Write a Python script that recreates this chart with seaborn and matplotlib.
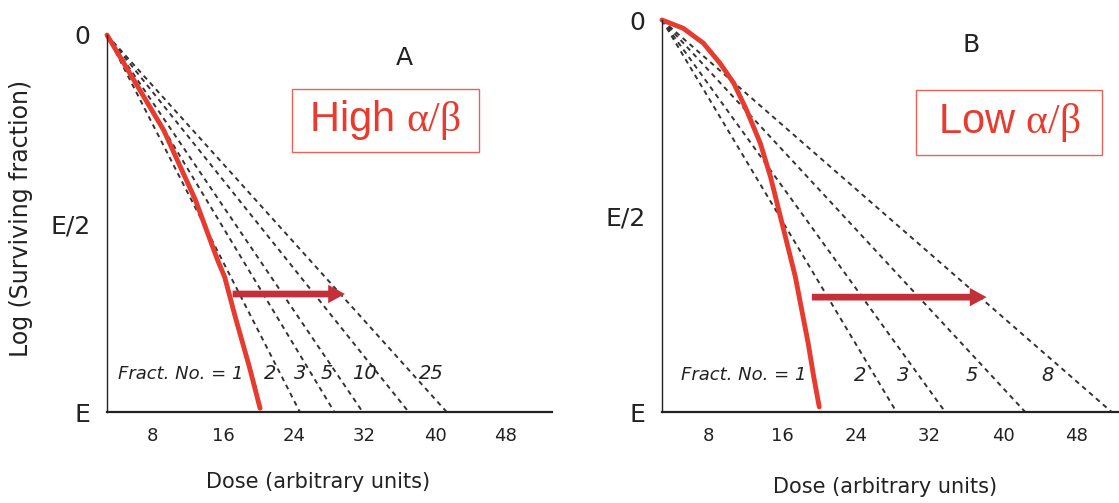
import matplotlib.pyplot as plt
import seaborn as sns
from matplotlib.patches import Rectangle

# Panel A - high alpha/beta: single-dose curve (dose, fraction of effect E)
dose_a = [2.9, 9.3, 12.9, 15.4, 16.2, 17.4, 19.0, 20.2]
effect_a = [0.0, 0.252, 0.438, 0.597, 0.642, 0.748, 0.881, 0.99]
# multi-fraction lines: number of fractions and dose where they reach E
fract_a = ["2", "3", "5", "10", "25"]
end_dose_a = [24.7, 28.6, 31.8, 37.0, 41.3]

# Panel B - low alpha/beta
dose_b = [2.9, 5.2, 7.4, 9.2, 10.7, 12.1, 13.6, 14.7, 15.6, 16.5, 17.4, 18.1, 18.8, 19.4, 20.0]
effect_b = [0.0, 0.021, 0.059, 0.110, 0.161, 0.230, 0.315, 0.400, 0.485, 0.570,
            0.655, 0.740, 0.825, 0.910, 0.987]
fract_b = ["2", "3", "5", "8"]
end_dose_b = [28.4, 33.7, 42.4, 51.8]

dose_ticks = [8, 16, 24, 32, 40, 48]
effect_ticks = [0, 0.5, 1]
effect_labels = ["0", "E/2", "E"]

RED = "#e63b2e"
ARROW = "#c3303a"
BOX = "#e8625a"
INK = "#222222"

sns.set_style("white")
plt.rcParams["mathtext.fontset"] = "custom"
plt.rcParams["mathtext.rm"] = "Liberation Serif"
plt.rcParams["mathtext.it"] = "Liberation Serif:italic"

fig = plt.figure(figsize=(11.19, 5.03), dpi=100)


def draw_panel(ax, dose, effect, fracts, end_doses, layout):
    # dashed lines for fractionated treatment, all from the origin
    for n, xe in zip(fracts, end_doses):
        sns.lineplot(x=[dose[0], xe], y=[effect[0], 1.0], ax=ax, color="#333333",
                     linewidth=1.4, linestyle=(0, (2.5, 2.2)), sort=False, estimator=None)
    # single dose curve
    sns.lineplot(x=dose, y=effect, ax=ax, color=RED, linewidth=3.5,
                 sort=False, estimator=None)
    for line in ax.lines:
        line.set_clip_on(False)

    ax.set_xlim(layout["xlim"])
    ax.set_ylim(1, 0)
    ax.set_xticks(dose_ticks)
    ax.set_xticklabels([str(t) for t in dose_ticks], fontsize=13)
    ax.set_yticks(effect_ticks)
    ax.set_yticklabels(effect_labels, fontsize=18)
    ax.tick_params(axis="x", direction="in", length=8, width=1.2, pad=11, colors=INK)
    ax.tick_params(axis="y", direction="in", length=5, width=1.2, pad=12, colors=INK)
    yt = ax.yaxis.get_major_ticks()
    yt[0].tick1line.set_visible(False)
    yt[2].tick1line.set_visible(False)

    sns.despine(ax=ax)
    ax.spines["left"].set_linewidth(1.0)
    ax.spines["bottom"].set_linewidth(1.6)
    ax.spines["left"].set_color(INK)
    ax.spines["bottom"].set_color(INK)

    ax.set_xlabel("Dose (arbitrary units)", fontsize=15, color=INK)
    ax.xaxis.set_label_coords(layout["xlabel_x"], layout["xlabel_y"])
    ax.set_ylabel("")

    # fraction number labels
    ax.text(layout["f1_x"], layout["lab_y"], "Fract. No. = 1", style="italic",
            fontsize=13, ha="right", va="center", color=INK)
    for n, lx in zip(fracts, layout["lab_x"]):
        ax.text(lx, layout["lab_y"], n, style="italic", fontsize=14,
                ha="center", va="center", color=INK)

    # panel letter
    ax.text(layout["letter_x"], layout["letter_y"], layout["letter"], fontsize=18,
            ha="center", va="center", color=INK)

    # alpha/beta box
    bx0, bx1, by0, by1 = layout["box"]
    ax.add_patch(Rectangle((bx0, by0), bx1 - bx0, by1 - by0, fill=False,
                           edgecolor=BOX, linewidth=1.0, clip_on=False))
    ax.text((bx0 + bx1) / 2, (by0 + by1) / 2, layout["box_text"] + r" $\mathrm{\alpha/\beta}$",
            fontsize=30, family="Liberation Sans", color=RED, ha="center", va="center")

    # arrow
    ax0, ax1, ay = layout["arrow"]
    ax.annotate("", xy=(ax1, ay), xytext=(ax0, ay),
                arrowprops=dict(arrowstyle="simple,head_length=0.55,head_width=0.6,tail_width=0.22",
                                mutation_scale=22, fc=ARROW, ec="none",
                                shrinkA=0, shrinkB=0))


ax_a = fig.add_axes([107 / 1119, 91 / 503, 445 / 1119, 377 / 503])
ax_b = fig.add_axes([662 / 1119, 91 / 503, 457 / 1119, 392 / 503])

draw_panel(ax_a, dose_a, effect_a, fract_a, end_dose_a, dict(
    xlim=(2.9, 53.2), xlabel_x=0.474, xlabel_y=-0.16,
    f1_x=18.3, lab_y=0.899, lab_x=[21.3, 24.7, 27.7, 32.0, 39.6],
    letter="A", letter_x=36.5, letter_y=0.061,
    box=(23.77, 44.92, 0.143, 0.310), box_text="High",
    arrow=(17.1, 29.8, 0.687)))

draw_panel(ax_b, dose_b, effect_b, fract_b, end_dose_b, dict(
    xlim=(2.9, 52.6), xlabel_x=0.488, xlabel_y=-0.166,
    f1_x=18.6, lab_y=0.906, lab_x=[24.4, 29.1, 36.6, 44.8],
    letter="B", letter_x=36.5, letter_y=0.064,
    box=(30.52, 50.74, 0.179, 0.344), box_text="Low",
    arrow=(19.2, 38.2, 0.707)))

fig.text(21 / 1119, 1 - 218 / 503, "Log (Surviving fraction)", rotation=90,
         fontsize=17, ha="center", va="center", color=INK)

fig.savefig("out.png", dpi=100)
